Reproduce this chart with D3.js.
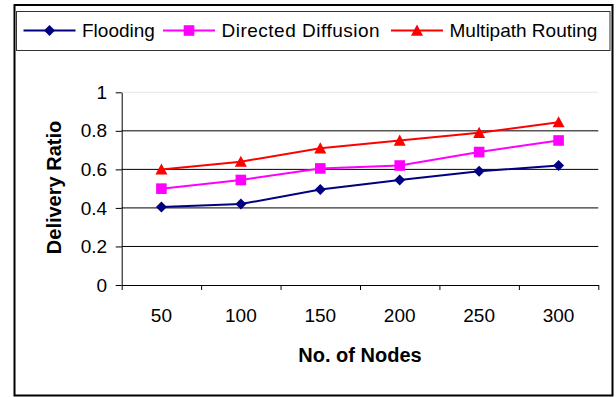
<!DOCTYPE html>
<html>
<head>
<meta charset="utf-8">
<script src="https://cdn.jsdelivr.net/npm/d3@7"></script>
<style>
  body { margin: 0; background: #fff; }
  svg { display: block; font-family: "Liberation Sans", Arial, sans-serif; }
</style>
</head>
<body>
<svg width="616" height="397"></svg>
<script>
// values
const nodes = ['50', '100', '150', '200', '250', '300'];
const flooding = [0.405, 0.42, 0.495, 0.545, 0.59, 0.62];
const directedDiffusion = [0.50, 0.545, 0.605, 0.62, 0.69, 0.75];
const multipathRouting = [0.60, 0.64, 0.71, 0.75, 0.79, 0.845];
const yTicks = [0, 0.2, 0.4, 0.6, 0.8, 1];
const seriesNames = ['Flooding', 'Directed Diffusion', 'Multipath Routing'];

const plot = {left: 121.7, right: 598.3, top: 92.3, bottom: 285};
const font = '"Liberation Sans", Arial, sans-serif';

const series = [
  {name: seriesNames[0], values: flooding, color: '#000080', shape: 'diamond'},
  {name: seriesNames[1], values: directedDiffusion, color: '#ff00ff', shape: 'square'},
  {name: seriesNames[2], values: multipathRouting, color: '#ff0000', shape: 'triangle'}
];

const svg = d3.select('svg');

// outer frame
svg.append('rect')
  .attr('x', 14.5).attr('y', 5)
  .attr('width', 598).attr('height', 390.5)
  .attr('fill', '#fff')
  .attr('stroke', '#000')
  .attr('stroke-width', 2);

const x = d3.scaleBand().domain(nodes).range([plot.left, plot.right]);
const xEdges = d3.scaleLinear().domain([0, nodes.length]).range([plot.left, plot.right]);
const y = d3.scaleLinear().domain([0, 1]).range([plot.bottom, plot.top]);

// gridlines
svg.append('g')
  .selectAll('line')
  .data(yTicks.filter(d => d > 0))
  .enter()
  .append('line')
  .attr('x1', plot.left).attr('x2', plot.right)
  .attr('y1', d => y(d)).attr('y2', d => y(d))
  .attr('stroke', d => d === 1 ? '#e6e6e6' : '#000')
  .attr('stroke-width', 1);

// y axis
svg.append('g')
  .attr('transform', 'translate(' + plot.left + ',0)')
  .call(d3.axisLeft(y).tickValues(yTicks).tickSize(6).tickSizeOuter(0).tickPadding(8.5).tickFormat(d => String(d)))
  .attr('font-family', font)
  .attr('font-size', 19)
  .call(g => g.selectAll('text').attr('fill', '#000'))
  .call(g => g.selectAll('line, path').attr('stroke', '#000'));

// x axis: ticks sit between categories, labels in the middle
svg.append('g')
  .attr('transform', 'translate(0,' + plot.bottom + ')')
  .call(d3.axisBottom(xEdges).tickValues(d3.range(nodes.length + 1)).tickSize(5).tickSizeOuter(0).tickFormat(''))
  .call(g => g.selectAll('line, path').attr('stroke', '#000'));

svg.append('g')
  .attr('transform', 'translate(0,' + plot.bottom + ')')
  .call(d3.axisBottom(x).tickSize(0).tickPadding(23.5))
  .attr('font-family', font)
  .attr('font-size', 19)
  .call(g => g.select('.domain').remove())
  .call(g => g.selectAll('text').attr('fill', '#000'));

// axis titles
svg.append('text')
  .attr('transform', 'translate(61,187.5) rotate(-90)')
  .attr('text-anchor', 'middle')
  .style('font-size', '20px')
  .style('font-weight', 'bold')
  .text('Delivery Ratio');

svg.append('text')
  .attr('x', 360).attr('y', 361.5)
  .attr('text-anchor', 'middle')
  .style('font-size', '20px')
  .style('font-weight', 'bold')
  .text('No. of Nodes');

function markerPath(shape) {
  if (shape == 'diamond') return 'M0,-5.5L5.5,0L0,5.5L-5.5,0Z';
  if (shape == 'square') return 'M-5.3,-5.3H5.3V5.3H-5.3Z';
  return 'M0,-6L6,5.2H-6Z';
}

const line = d3.line()
  .x((d, i) => x(nodes[i]) + x.bandwidth() / 2)
  .y(d => y(d));

series.forEach(s => {
  svg.append('path')
    .datum(s.values)
    .attr('d', line)
    .attr('fill', 'none')
    .attr('stroke', s.color)
    .attr('stroke-width', 2);

  svg.append('g')
    .selectAll('path')
    .data(s.values)
    .enter()
    .append('path')
    .attr('transform', (d, i) => 'translate(' + (x(nodes[i]) + x.bandwidth() / 2) + ',' + y(d) + ')')
    .attr('d', markerPath(s.shape))
    .attr('fill', s.color);
});

// legend
svg.append('rect')
  .attr('x', 16.5).attr('y', 11.5)
  .attr('width', 593.5).attr('height', 39)
  .attr('fill', '#fff')
  .attr('stroke', '#333')
  .attr('stroke-width', 1);

const legendStart = [23.5, 163, 391];
const legend = svg.append('g').selectAll('g')
  .data(series)
  .enter()
  .append('g')
  .attr('transform', (d, i) => 'translate(' + legendStart[i] + ',30.5)');

legend.append('line')
  .attr('x1', 0).attr('x2', 52)
  .attr('stroke', d => d.color)
  .attr('stroke-width', 2);
legend.append('path')
  .attr('transform', 'translate(26,0)')
  .attr('d', d => markerPath(d.shape))
  .attr('fill', d => d.color);
legend.append('text')
  .attr('x', 58.5).attr('y', 6.5)
  .style('font-size', '19px')
  .style('letter-spacing', (d, i) => i === 1 ? '0.5px' : null)
  .text(d => d.name);
</script>
</body>
</html>
